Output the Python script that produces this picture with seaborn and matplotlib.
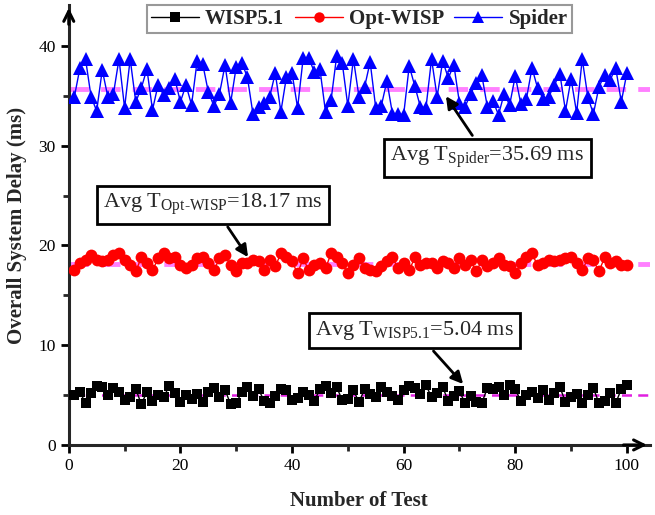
import numpy as np
import pandas as pd
import matplotlib
matplotlib.use("Agg")
import matplotlib.pyplot as plt
import seaborn as sns
from matplotlib.lines import Line2D

tests = list(range(1, 101))

wisp = [5.0, 5.3, 4.2, 5.2, 5.9, 5.8, 5.0, 5.7, 5.3, 4.5,
        4.8, 5.6, 4.1, 5.3, 4.4, 5.0, 4.8, 5.9, 5.2, 4.3,
        5.0, 4.6, 5.1, 4.3, 5.3, 5.7, 4.8, 5.5, 4.1, 4.2,
        5.3, 5.8, 4.9, 5.6, 4.4, 4.2, 4.9, 5.6, 5.5, 4.5,
        4.7, 5.3, 5.0, 4.4, 5.6, 5.9, 5.2, 5.8, 4.5, 4.6,
        5.5, 4.3, 5.6, 5.1, 4.8, 5.8, 5.3, 4.9, 4.5, 5.5,
        5.9, 5.7, 5.1, 6.0, 4.8, 5.2, 5.8, 4.4, 4.9, 5.4,
        4.2, 4.9, 4.3, 4.2, 5.7, 5.6, 5.8, 5.0, 6.0, 5.6,
        4.4, 5.0, 5.3, 4.7, 5.5, 4.5, 5.2, 5.8, 4.3, 4.8,
        5.1, 4.2, 5.0, 5.7, 4.2, 4.4, 5.2, 4.2, 5.6, 6.0]

opt_wisp = [17.5, 18.2, 18.5, 19.0, 18.5, 18.4, 18.5, 19.0, 19.2, 18.5,
            18.0, 17.4, 18.8, 18.2, 17.5, 18.7, 19.2, 18.7, 18.8, 18.0,
            17.7, 18.0, 18.7, 18.8, 18.2, 17.5, 18.7, 19.0, 18.0, 17.4,
            18.2, 18.2, 18.5, 18.4, 17.5, 18.5, 17.9, 19.2, 18.8, 18.4,
            17.2, 18.7, 17.5, 18.0, 18.2, 17.7, 19.2, 18.8, 18.2, 17.2,
            18.0, 18.7, 17.7, 17.5, 17.4, 17.9, 18.4, 18.8, 17.7, 18.2,
            17.5, 18.8, 18.0, 18.2, 18.2, 17.7, 18.4, 18.2, 17.7, 18.7,
            18.0, 18.5, 17.4, 18.5, 17.9, 18.2, 18.7, 18.0, 17.9, 17.2,
            18.2, 18.8, 19.2, 18.0, 18.2, 18.5, 18.4, 18.5, 18.7, 18.8,
            18.2, 17.5, 18.7, 18.5, 17.4, 18.8, 18.2, 18.4, 18.0, 18.0]

spider = [34.9, 37.8, 38.7, 34.9, 33.5, 37.6, 34.9, 35.2, 38.7, 33.8,
          38.7, 34.4, 35.8, 37.7, 33.6, 36.1, 35.1, 35.8, 36.7, 34.4,
          36.1, 34.1, 38.5, 38.2, 35.4, 34.0, 35.2, 38.1, 34.3, 37.9,
          38.3, 36.9, 33.2, 33.9, 34.3, 34.9, 37.3, 33.4, 36.9, 37.3,
          33.8, 38.8, 38.8, 37.4, 37.7, 33.4, 34.6, 39.0, 38.3, 34.0,
          38.7, 34.9, 35.9, 38.4, 33.8, 34.0, 36.5, 33.2, 33.2, 33.1,
          38.0, 36.0, 33.9, 33.8, 38.7, 34.9, 38.5, 36.8, 38.1, 34.3,
          33.9, 35.2, 36.3, 37.1, 33.9, 34.5, 33.1, 35.2, 34.1, 37.0,
          34.2, 34.7, 37.8, 35.8, 34.7, 34.9, 36.1, 37.2, 33.5, 36.7,
          33.3, 38.7, 34.9, 33.2, 35.9, 37.1, 36.6, 37.8, 34.4, 37.3]

series_names = ["WISP5.1", "Opt-WISP", "Spider"]
avg_values = [5.04, 18.17, 35.69]
avg_labels = [r"Avg T$_{\rm WISP5.1}$=5.04 ms",
              r"Avg T$_{\rm Opt\text{-}WISP}$=18.17 ms",
              r"Avg T$_{\rm Spider}$=35.69 ms"]
x_ticks = [0, 20, 40, 60, 80, 100]
y_ticks = [0, 10, 20, 30, 40]

sns.set_style("ticks")
plt.rcParams["font.family"] = ["Liberation Serif", "DejaVu Serif"]
plt.rcParams["mathtext.fontset"] = "custom"
plt.rcParams["mathtext.rm"] = "Liberation Serif"
plt.rcParams["mathtext.it"] = "Liberation Serif:italic"
plt.rcParams["mathtext.bf"] = "Liberation Serif:bold"

fig = plt.figure(figsize=(6.55, 5.15), dpi=100)
ax = fig.add_axes([0.105, 0.136, 0.887, 0.854])

df = pd.DataFrame({"test": tests, "WISP5.1": wisp, "Opt-WISP": opt_wisp, "Spider": spider})

styles = {"WISP5.1": dict(color="black", marker="s", ms=7.5),
          "Opt-WISP": dict(color="red", marker="o", ms=8.5),
          "Spider": dict(color="blue", marker="^", ms=10)}

# mean lines
ax.axhline(avg_values[2], color="#FF80FF", lw=3.5, ls=(0, (4, 2.5)), zorder=1)
ax.axhline(avg_values[1], color="#FF80FF", lw=3.5, ls=(0, (4, 2.5)), zorder=1)
ax.axhline(avg_values[0], color="#E020E0", lw=1.8, ls=(0, (4, 2.5)), zorder=1)

for name in series_names:
    st = styles[name]
    sns.lineplot(data=df, x="test", y=name, ax=ax, color=st["color"], lw=1.0,
                 marker=st["marker"], markersize=st["ms"], markeredgewidth=0,
                 markerfacecolor=st["color"], zorder=3)

ax.set_xlim(0, 104.1)
ax.set_ylim(0, 44.1)
ax.set_xticks(x_ticks)
ax.set_yticks(y_ticks)
ax.set_xticks([10, 30, 50, 70, 90], minor=True)
ax.set_yticks([5, 15, 25, 35], minor=True)
ax.tick_params(axis="both", which="major", direction="out", length=6, width=2,
               labelsize=12.5, colors="black")
ax.tick_params(axis="both", which="minor", direction="out", length=4, width=2)

sns.despine(ax=ax)
ax.spines["left"].set_linewidth(2.2)
ax.spines["bottom"].set_linewidth(2.2)

# axis arrows
ax.annotate("", xy=(1.0, 0), xytext=(0.95, 0), xycoords="axes fraction",
            arrowprops=dict(arrowstyle="->", lw=2.2, color="black", mutation_scale=18))
ax.annotate("", xy=(0, 1.0), xytext=(0, 0.95), xycoords="axes fraction",
            arrowprops=dict(arrowstyle="->", lw=2.2, color="black", mutation_scale=18))

ax.set_xlabel("Number of Test", fontsize=15, fontweight="bold", labelpad=12)
ax.set_ylabel("Overall System Delay (ms)", fontsize=15, fontweight="bold", labelpad=8)

bbox = dict(boxstyle="square,pad=0.28", fc="white", ec="black", lw=2)
arrow = dict(arrowstyle="-|>", color="black", lw=2, mutation_scale=18)
# Spider annotation
ax.annotate(avg_labels[2], xy=(67.3, 35.2), xytext=(75.0, 28.8),
            ha="center", va="center", fontsize=16, bbox=bbox, arrowprops=arrow, zorder=5)
# Opt-WISP annotation
ax.annotate(avg_labels[1], xy=(32.4, 18.6), xytext=(25.8, 24.1),
            ha="center", va="center", fontsize=16, bbox=bbox, arrowprops=arrow, zorder=5)
# WISP annotation
ax.annotate(avg_labels[0], xy=(71.0, 5.9), xytext=(62.0, 11.5),
            ha="center", va="center", fontsize=16, bbox=bbox, arrowprops=arrow, zorder=5)

handles = [Line2D([], [], color=styles[n]["color"], marker=styles[n]["marker"],
                  markersize=styles[n]["ms"] - 1, lw=1.0, markeredgewidth=0) for n in series_names]
leg = ax.legend(handles, series_names, loc="upper center", bbox_to_anchor=(0.5, 1.0),
                ncol=3, frameon=True, fancybox=False, edgecolor="#808080",
                handlelength=2.3, columnspacing=0.5, handletextpad=0.3,
                borderpad=0.2, borderaxespad=0.0,
                prop=dict(family="Liberation Serif", weight="bold", size=15))
leg.get_frame().set_linewidth(1.5)

fig.savefig("out.png", dpi=100)
